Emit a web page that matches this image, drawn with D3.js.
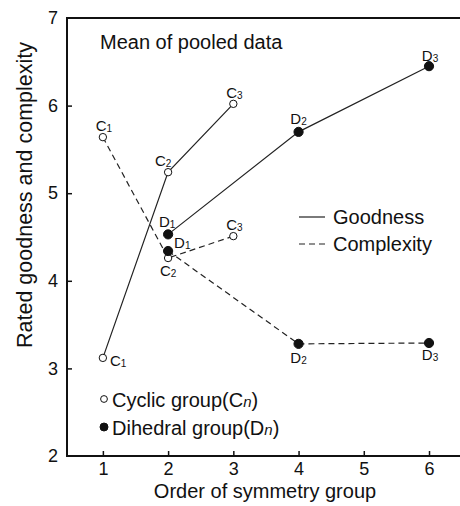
<!DOCTYPE html>
<html>
<head>
<meta charset="utf-8">
<script src="https://cdn.jsdelivr.net/npm/d3@7"></script>
<style>
  body { margin: 0; background: #fff; }
  svg { font-family: "Liberation Sans", Arial, Helvetica, sans-serif; }
</style>
</head>
<body>
<div id="chart"></div>
<script>
// order of symmetry group for each family
var cyclicOrder = [1, 2, 3];
var dihedralOrder = [2, 4, 6];
var cyclicNames = ["1", "2", "3"];
var dihedralNames = ["1", "2", "3"];

// mean ratings
var cyclicGoodness = [3.12, 5.24, 6.02];
var dihedralGoodness = [4.53, 5.70, 6.45];
var cyclicComplexity = [5.64, 4.26, 4.51];
var dihedralComplexity = [4.34, 3.28, 3.29];

var xTicks = [1, 2, 3, 4, 5, 6];
var yTicks = [2, 3, 4, 5, 6, 7];

// label placement around each point: [dx, dy, anchor]
var labelPlace = {
  cg: [[7, 8, "start"], [-5, -6, "middle"], [1, -6, "middle"]],
  dg: [[-1, -7, "middle"], [0, -8, "middle"], [1, -5, "middle"]],
  cc: [[1, -6, "middle"], [0, 18, "middle"], [1, -6, "middle"]],
  dc: [[6, -3, "start"], [0, 19, "middle"], [1, 17, "middle"]]
};

function drawChart() {
  var width = 460, height = 506;
  var plotLeft = 67, plotRight = 460, plotTop = 18, plotBottom = 456;

  var x = d3.scaleLinear().domain([0.45, 6.475]).range([plotLeft, plotRight]);
  var y = d3.scaleLinear().domain([2, 7]).range([plotBottom, plotTop]);

  var svg = d3.select("#chart").append("svg")
    .attr("width", width)
    .attr("height", height);

  // frame
  svg.append("path")
    .attr("d", "M" + plotRight + "," + plotTop + "H" + plotLeft + "V" + plotBottom + "H" + plotRight)
    .attr("fill", "none")
    .attr("stroke", "#111")
    .attr("stroke-width", 2);

  var xAxis = d3.axisBottom(x).tickValues(xTicks).tickSizeInner(-5).tickSizeOuter(0).tickPadding(6)
    .tickFormat(d3.format("d"));
  var yAxis = d3.axisLeft(y).tickValues(yTicks).tickSizeInner(-5).tickSizeOuter(0).tickPadding(9)
    .tickFormat(d3.format("d"));

  var gx = svg.append("g").attr("transform", "translate(0," + plotBottom + ")").call(xAxis);
  var gy = svg.append("g").attr("transform", "translate(" + plotLeft + ",0)").call(yAxis);
  [gx, gy].forEach(function (g) {
    g.select(".domain").remove();
    g.selectAll(".tick line").attr("stroke", "#111").attr("stroke-width", 1.5);
    g.selectAll(".tick text").attr("font-size", 18).attr("fill", "#111")
      .attr("font-family", "Liberation Sans, Arial, sans-serif");
  });
  gy.selectAll(".tick line").filter(function (d) { return d === 2 || d === 7; }).remove();

  // axis titles
  svg.append("text")
    .attr("x", 265).attr("y", 498)
    .attr("text-anchor", "middle").attr("font-size", 20).attr("fill", "#111")
    .text("Order of symmetry group");

  svg.append("text")
    .attr("transform", "translate(32,195) rotate(-90)")
    .attr("text-anchor", "middle").attr("font-size", 21.5).attr("fill", "#111")
    .text("Rated goodness and complexity");

  svg.append("text")
    .attr("x", 100).attr("y", 49)
    .attr("font-size", 20).attr("fill", "#111")
    .text("Mean of pooled data");

  var line = d3.line()
    .x(function (d) { return x(d[0]); })
    .y(function (d) { return y(d[1]); });

  var series = [
    { key: "cc", xs: cyclicOrder, ys: cyclicComplexity, filled: false, dash: "6,4", letter: "C", names: cyclicNames },
    { key: "dc", xs: dihedralOrder, ys: dihedralComplexity, filled: true, dash: "6,4", letter: "D", names: dihedralNames },
    { key: "cg", xs: cyclicOrder, ys: cyclicGoodness, filled: false, dash: null, letter: "C", names: cyclicNames },
    { key: "dg", xs: dihedralOrder, ys: dihedralGoodness, filled: true, dash: null, letter: "D", names: dihedralNames }
  ];

  series.forEach(function (s) {
    var pts = d3.zip(s.xs, s.ys);
    svg.append("path")
      .datum(pts)
      .attr("d", line)
      .attr("fill", "none")
      .attr("stroke", "#222")
      .attr("stroke-width", 1.2)
      .attr("stroke-dasharray", s.dash);
  });

  series.forEach(function (s) {
    var pts = d3.zip(s.xs, s.ys);
    svg.selectAll(".pt-" + s.key)
      .data(pts)
      .enter().append("circle")
      .attr("cx", function (d) { return x(d[0]); })
      .attr("cy", function (d) { return y(d[1]); })
      .attr("r", s.filled ? 4.6 : 3.7)
      .attr("fill", s.filled ? "#111" : "#fff")
      .attr("stroke", "#111")
      .attr("stroke-width", 1);

    var lab = svg.selectAll(".lab-" + s.key)
      .data(pts)
      .enter().append("text")
      .attr("x", function (d, i) { return x(d[0]) + labelPlace[s.key][i][0]; })
      .attr("y", function (d, i) { return y(d[1]) + labelPlace[s.key][i][1]; })
      .attr("text-anchor", function (d, i) { return labelPlace[s.key][i][2]; })
      .attr("font-size", 15)
      .attr("fill", "#111");
    lab.append("tspan").text(s.letter);
    lab.append("tspan").attr("font-size", 10).attr("dy", 1)
      .text(function (d, i) { return s.names[i]; });
  });

  // line-style legend
  var styleLegend = [
    { label: "Goodness", dash: null, yy: 217 },
    { label: "Complexity", dash: "6,4", yy: 244 }
  ];
  styleLegend.forEach(function (l) {
    svg.append("line")
      .attr("x1", 299).attr("x2", 325).attr("y1", l.yy).attr("y2", l.yy)
      .attr("stroke", "#222").attr("stroke-width", 1.2)
      .attr("stroke-dasharray", l.dash);
    svg.append("text")
      .attr("x", 333).attr("y", l.yy + 7)
      .attr("font-size", 20).attr("fill", "#111")
      .text(l.label);
  });

  // marker legend
  var markerLegend = [
    { label: "Cyclic group(", sym: "C", filled: false, yy: 399 },
    { label: "Dihedral group(", sym: "D", filled: true, yy: 427 }
  ];
  markerLegend.forEach(function (l) {
    svg.append("circle")
      .attr("cx", 104).attr("cy", l.yy)
      .attr("r", l.filled ? 4 : 3.4)
      .attr("fill", l.filled ? "#111" : "#fff")
      .attr("stroke", "#111").attr("stroke-width", 1);
    var t = svg.append("text")
      .attr("x", 112).attr("y", l.yy + 8)
      .attr("font-size", 20).attr("fill", "#111");
    t.append("tspan").text(l.label + l.sym);
    t.append("tspan").attr("font-size", 15).attr("font-style", "italic").text("n");
    t.append("tspan").text(")");
  });
}

drawChart();
</script>
</body>
</html>
